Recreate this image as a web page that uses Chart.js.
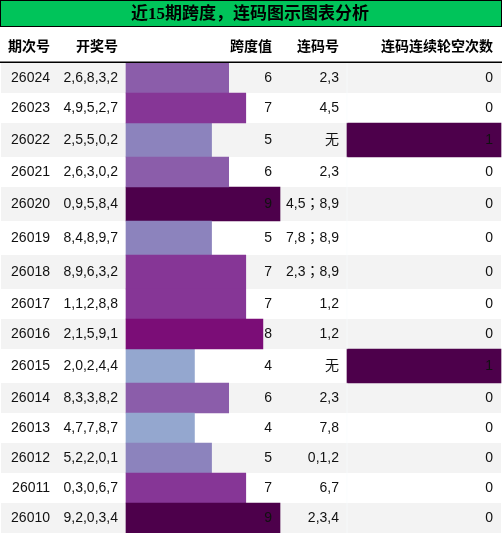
<!DOCTYPE html>
<html><head><meta charset="utf-8">
<script src="https://cdn.jsdelivr.net/npm/chart.js@4"></script>
<style>html,body{margin:0;padding:0;background:#fff}#wrap{width:502px;height:534px}canvas{display:block}</style>
</head><body><div id="wrap"><canvas id="c" width="502" height="534"></canvas></div>
<script>
const title = '近15期跨度，连码图示图表分析';
const headers = ['期次号','开奖号','跨度值','连码号','连码连续轮空次数'];
const periods = ['26024','26023','26022','26021','26020','26019','26018','26017','26016','26015','26014','26013','26012','26011','26010'];
const draws = ['2,6,8,3,2','4,9,5,2,7','2,5,5,0,2','2,6,3,0,2','0,9,5,8,4','8,4,8,9,7','8,9,6,3,2','1,1,2,8,8','2,1,5,9,1','2,0,2,4,4','8,3,3,8,2','4,7,7,8,7','5,2,2,0,1','0,3,0,6,7','9,2,0,3,4'];
const spans = [6,7,5,6,9,5,7,7,8,4,6,4,5,7,9];
const lianma = ['2,3','4,5','无','2,3','4,5；8,9','7,8；8,9','2,3；8,9','1,2','1,2','无','2,3','7,8','0,1,2','6,7','2,3,4'];
const gaps = [0,0,1,0,0,0,0,0,0,1,0,0,0,0,0];

// ---- layout (style, not data) ----
const W = 502, H = 534;
const HEAD_BOTTOM = 63;
const colRight = [58, 126, 280, 347, 501];
const PAD = 8;
const rowH = lianma.map(s => /[^\x00-\x7f]/.test(s) ? 34 : 30);
const rowTop = [];
rowH.reduce((acc, h, i) => { rowTop[i] = acc; return acc + h; }, 0);
const rowCenter = rowH.map((h, i) => rowTop[i] + h / 2);
const totalH = rowH.reduce((a, b) => a + b, 0);

const BUPU = ['#f7fcfd','#e0ecf4','#bfd3e6','#9ebcda','#8c96c6','#8c6bb1','#88419d','#810f7c','#4d004b'];
function hex(c){return [parseInt(c.slice(1,3),16),parseInt(c.slice(3,5),16),parseInt(c.slice(5,7),16)];}
function bupu(t){
  t = Math.max(0, Math.min(1, t));
  const p = t * (BUPU.length - 1);
  const i = Math.min(BUPU.length - 2, Math.floor(p));
  const f = p - i;
  const a = hex(BUPU[i]), b = hex(BUPU[i+1]);
  return 'rgb(' + a.map((v, k) => Math.round(v + (b[k] - v) * f)).join(',') + ')';
}

const maxSpan = Math.max(...spans);
const maxGap = Math.max(...gaps);
const spanUnit = (colRight[2] - colRight[1]) / maxSpan;
const gapUnit = (colRight[4] - colRight[3]) / maxGap;

const heightClasses = [...new Set(rowH)];
function makeSets(values, axisId, maxV){
  return heightClasses.map(h => ({
    xAxisID: axisId,
    yAxisID: 'y',
    grouped: false,
    barThickness: h,
    borderWidth: 0,
    data: values.map((v, i) => ({x: v, y: rowCenter[i], h: rowH[i]})).filter(d => d.h === h),
    backgroundColor: ctx => bupu((ctx.raw ? ctx.raw.x : 0) / maxV)
  }));
}

const tablePlugin = {
  id: 'table',
  beforeDatasetsDraw(chart){
    const ctx = chart.ctx;
    const ys = chart.scales.y;
    ctx.save();
    ctx.fillStyle = '#fff';
    ctx.fillRect(0, 0, W, H);
    // title
    ctx.fillStyle = '#000';
    ctx.fillRect(0, 0, W, 27);
    ctx.fillStyle = '#00c45a';
    ctx.fillRect(1, 1, W - 2, 25);
    ctx.fillStyle = '#000';
    ctx.font = 'bold 17px "Liberation Serif","Noto Sans CJK SC",serif';
    ctx.textAlign = 'center';
    ctx.textBaseline = 'middle';
    ctx.fillText(title, 250, 14.5);
    // header
    ctx.font = 'bold 14px "Noto Sans CJK SC",sans-serif';
    ctx.textAlign = 'right';
    headers.forEach((t, c) => ctx.fillText(t, colRight[c] - PAD, 45.5));
    ctx.fillRect(0, 61.5, W, 1.5);
    // row backgrounds
    rowH.forEach((h, i) => {
      if (i % 2 === 0) {
        const top = ys.getPixelForValue(rowTop[i]);
        const bot = ys.getPixelForValue(rowTop[i] + h);
        ctx.fillStyle = '#f3f3f3';
        ctx.fillRect(1, top, W - 2, bot - top);
      }
    });
    ctx.restore();
  },
  afterDatasetsDraw(chart){
    const ctx = chart.ctx;
    const ys = chart.scales.y;
    ctx.save();
    ctx.fillStyle = '#111';
    ctx.textAlign = 'right';
    ctx.textBaseline = 'middle';
    periods.forEach((p, i) => {
      const y = ys.getPixelForValue(rowCenter[i]) + 0.5;
      const cells = [p, draws[i], String(spans[i]), lianma[i], String(gaps[i])];
      cells.forEach((t, c) => {
        ctx.font = c === 3
          ? '14px "Liberation Sans","Noto Sans CJK TC",sans-serif'
          : '14px "Liberation Sans","Noto Sans CJK SC",sans-serif';
        ctx.fillText(t, colRight[c] - PAD, y);
      });
    });
    ctx.restore();
  }
};

new Chart(document.getElementById('c'), {
  type: 'bar',
  data: { datasets: [...makeSets(spans, 'x', maxSpan), ...makeSets(gaps, 'x2', maxGap)] },
  options: {
    indexAxis: 'y',
    responsive: false,
    animation: false,
    devicePixelRatio: 1,
    layout: { padding: { top: HEAD_BOTTOM, bottom: H - HEAD_BOTTOM - totalH, left: 0, right: 0 } },
    plugins: { legend: { display: false }, tooltip: { enabled: false }, title: { display: false } },
    scales: {
      y: { type: 'linear', reverse: true, min: 0, max: totalH, display: false, offset: false },
      x: { type: 'linear', min: -colRight[1] / spanUnit, max: (W - colRight[1]) / spanUnit, display: false, offset: false },
      x2: { type: 'linear', min: -colRight[3] / gapUnit, max: (W - colRight[3]) / gapUnit, display: false, offset: false }
    }
  },
  plugins: [tablePlugin]
});
</script></body></html>
